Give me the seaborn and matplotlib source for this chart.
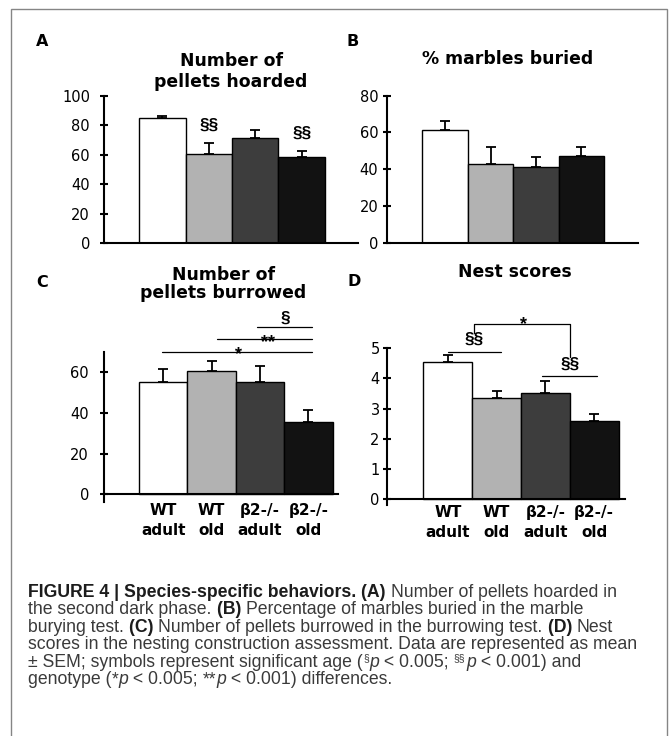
import numpy as np
import pandas as pd
import matplotlib
matplotlib.use("Agg")
import matplotlib.pyplot as plt
import matplotlib.transforms as mtransforms
from matplotlib import font_manager
from matplotlib.patches import Rectangle
import seaborn as sns

# ---------------- data ----------------
groups = ["WT\nadult", "WT\nold", "β2-/-\nadult", "β2-/-\nold"]
bar_colors = ["#ffffff", "#b2b2b2", "#3d3d3d", "#121212"]

hoarded_mean = [85.0, 60.7, 71.5, 58.3]
hoarded_sem = [1.2, 7.0, 5.5, 4.0]
marbles_mean = [61.5, 43.0, 41.0, 47.3]
marbles_sem = [4.6, 9.2, 5.8, 4.9]
burrowed_mean = [55.5, 60.7, 55.3, 35.5]
burrowed_sem = [6.2, 5.1, 7.9, 6.2]
nest_mean = [4.55, 3.37, 3.52, 2.59]
nest_sem = [0.22, 0.20, 0.40, 0.22]

titles = {
    "A": ["Number of", "pellets hoarded"],
    "B": ["% marbles buried"],
    "C": ["Number of", "pellets burrowed"],
    "D": ["Nest scores"],
}

caption_lines = [
    [("FIGURE 4 | Species-specific behaviors. ", "b"), ("(A) ", "b"),
     ("Number of pellets hoarded in", "r")],
    [("the second dark phase. ", "r"), ("(B) ", "b"),
     ("Percentage of marbles buried in the marble", "r")],
    [("burying test. ", "r"), ("(C) ", "b"),
     ("Number of pellets burrowed in the burrowing test. ", "r"), ("(D) ", "b"), ("Nest", "r")],
    [("scores in the nesting construction assessment. Data are represented as mean", "r")],
    [("\u00b1 SEM; symbols represent significant age (", "r"), ("\u00a7", "s"), ("p", "i"),
     (" < 0.005; ", "r"), ("\u00a7\u00a7", "s"), ("p", "i"), (" < 0.001) and", "r")],
    [("genotype (", "r"), ("*", "r"), ("p", "i"), (" < 0.005; ", "r"), ("**", "r"),
     ("p", "i"), (" < 0.001) differences.", "r")],
]

# ---------------- setup ----------------
sns.set_style("ticks")
plt.rcParams["font.family"] = ["DejaVu Sans"]
for k in ["text.color", "axes.labelcolor", "xtick.color", "ytick.color", "axes.edgecolor"]:
    plt.rcParams[k] = "black"

names = {f.name for f in font_manager.fontManager.ttflist}
cap_family = "Liberation Sans Narrow" if "Liberation Sans Narrow" in names else "Liberation Sans"

W, H = 670, 736
fig = plt.figure(figsize=(W / 100, H / 100), dpi=100)
SYM_FONT = ["Liberation Sans", "DejaVu Sans"]


def rect(l, r, top, bottom):
    return [l / W, 1 - bottom / H, (r - l) / W, (bottom - top) / H]


def fy(py):
    return 1 - py / H


def panel(rc, means, sems, ylim, yticks, xlim, pad, show_x, cross, xpad=6.5):
    ax = fig.add_axes(rc)
    df = pd.DataFrame({"group": groups, "value": means})
    sns.barplot(data=df, x="group", y="value", hue="group", order=groups,
                hue_order=groups, palette=bar_colors, width=1.0,
                edgecolor="black", linewidth=1.0, errorbar=None,
                legend=False, ax=ax)
    ax.errorbar(np.arange(len(groups)), means, yerr=[np.zeros(len(groups)), sems],
                fmt="none", ecolor="black", elinewidth=1.3, capsize=3.3,
                capthick=1.3, zorder=5)
    ax.set_xlim(*xlim)
    ax.set_ylim(*ylim)
    ax.set_yticks(yticks)
    ax.set_xlabel("")
    ax.set_ylabel("")
    for s in ["top", "right"]:
        ax.spines[s].set_visible(False)
    for s in ["left", "bottom"]:
        ax.spines[s].set_linewidth(1.5)
        ax.spines[s].set_color("black")
    if cross:
        ax.spines["bottom"].set_position(("data", 0))
    ax.tick_params(axis="y", direction="inout", length=6, width=1.5,
                   pad=pad, labelsize=10.5, colors="black", labelcolor="black")
    if show_x:
        ax.set_xticks(range(len(groups)))
        ax.set_xticklabels(groups, fontweight="bold", fontsize=11,
                           linespacing=1.4, color="black")
        ax.tick_params(axis="x", length=0, pad=xpad)
    else:
        ax.set_xticks([])
    ax.patch.set_alpha(0)
    return ax


axA = panel(rect(104, 358, 95.7, 243.3), hoarded_mean, hoarded_sem, (0, 100),
            range(0, 101, 20), (-1.253, 4.21), 7.0, False, False)
axB = panel(rect(387.3, 638, 95.7, 242.7), marbles_mean, marbles_sem, (0, 80),
            range(0, 81, 20), (-1.275, 4.246), 3.6, False, False)
axC = panel(rect(104, 338, 352.2, 501.7), burrowed_mean, burrowed_sem, (-3.65, 70),
            range(0, 61, 20), (-1.223, 3.61), 7.8, True, True, xpad=6.5)
axD = panel(rect(387.3, 625, 348.3, 505.3), nest_mean, nest_sem, (-0.2, 5),
            range(0, 6), (-1.241, 3.632), 2.5, True, True, xpad=4.2)


def off(ax, dy_px):
    return mtransforms.offset_copy(ax.transData, fig=fig, x=0, y=dy_px, units="dots")


# titles
def title_lines(lines, xc, baselines):
    for txt, b in zip(lines, baselines):
        fig.text(xc / W, fy(b), txt, ha="center", va="baseline",
                 fontsize=12.4, fontweight="bold", color="black")


title_lines(titles["A"], 231, [65.7, 87.3])
title_lines(titles["B"], 508, [64.0])
title_lines(titles["C"], 223, [280.0, 298.3])
title_lines(titles["D"], 515, [276.7])

for letter, x, b in [("A", 36, 46), ("B", 347, 45.5), ("C", 36, 286.7), ("D", 347.7, 286)]:
    fig.text(x / W, fy(b), letter, ha="left", va="baseline", fontsize=11.5,
             fontweight="bold", color="black")

SEC_SIZE = 12.5
AST_SIZE = 13

# significance marks
# A: age differences above bars
for i in [1, 3]:
    axA.text(i, hoarded_mean[i] + hoarded_sem[i], "\u00a7\u00a7", ha="center",
             va="baseline", fontsize=SEC_SIZE, fontweight="bold", family=SYM_FONT,
             transform=off(axA, 13.8))

# C: comparison lines
c_lines = [(-0.03, 3.07, 69.95, "*", 1.545, -6.5, AST_SIZE),
           (1.105, 3.07, 76.35, "**", 2.165, -7.3, AST_SIZE),
           (1.93, 3.07, 82.56, "\u00a7", 2.517, 3.7, SEC_SIZE)]
for x0, x1, yv, lab, xl, dy, fs in c_lines:
    axC.plot([x0, x1], [yv, yv], color="black", lw=0.9, clip_on=False)
    axC.text(xl, yv, lab, ha="center", va="baseline", fontsize=fs,
             fontweight="bold", family=SYM_FONT, transform=off(axC, dy), clip_on=False)

# D: lines and bracket
d_lines = [(0.0, 1.085, 4.894, 0.537), (1.94, 3.055, 4.086, 2.507)]
for x0, x1, yv, xl in d_lines:
    axD.plot([x0, x1], [yv, yv], color="black", lw=0.9, clip_on=False)
    axD.text(xl, yv, "\u00a7\u00a7", ha="center", va="baseline", fontsize=SEC_SIZE,
             fontweight="bold", family=SYM_FONT, transform=off(axD, 7.3), clip_on=False)
axD.plot([0.544, 0.544, 2.507, 2.507], [5.505, 5.80, 5.80, 4.728], color="black",
         lw=0.9, clip_on=False)
axD.text(1.549, 5.80, "*", ha="center", va="baseline", fontsize=AST_SIZE,
         fontweight="bold", family=SYM_FONT, transform=off(axD, -5.2), clip_on=False)

# frame
fig.add_artist(Rectangle((11 / W, -0.02), (667.3 - 11) / W, fy(9.3) + 0.02,
                         transform=fig.transFigure, fill=False,
                         edgecolor="#858585", lw=1.0))

# caption
renderer = fig.canvas.get_renderer()


def style_kw(kind, size):
    kw = dict(family=cap_family, fontsize=size, color="#3a3a3a")
    if kind == "b":
        kw.update(fontweight="bold", color="#1c1c1c")
    elif kind == "i":
        kw.update(style="italic")
    elif kind == "s":
        kw.update(fontsize=size * 0.6)
    return kw


def width_of(s, kw):
    t1 = fig.text(0, 0, s + "|", **kw)
    t2 = fig.text(0, 0, "|", **kw)
    w = t1.get_window_extent(renderer).width - t2.get_window_extent(renderer).width
    t1.remove()
    t2.remove()
    return w


base_size = 10.0
w4 = width_of(caption_lines[3][0][0], style_kw("r", base_size))
cap_size = base_size * 610.0 / w4

x_start = 28.3
for li, segs in enumerate(caption_lines):
    base = 596.7 + 17.46 * li
    x = x_start
    for txt, kind in segs:
        kw = style_kw(kind, cap_size)
        yb = base - (cap_size * 0.30 * 100 / 72 if kind == "s" else 0)
        fig.text(x / W, fy(yb), txt, ha="left", va="baseline", **kw)
        x += width_of(txt, kw) + (0.8 if kind == "s" else 0.0)

fig.savefig("out.png", dpi=100)
